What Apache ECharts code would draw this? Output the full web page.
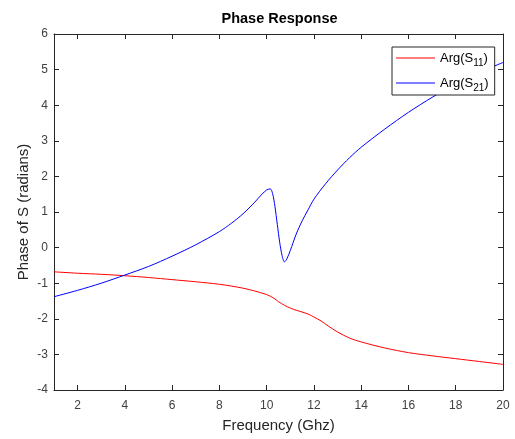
<!DOCTYPE html>
<html>
<head>
<meta charset="utf-8">
<script src="https://cdn.jsdelivr.net/npm/echarts@6/dist/echarts.min.js"></script>
<style>
  html, body { margin: 0; padding: 0; background: #fff; }
  #chart { width: 515px; height: 439px; }
</style>
</head>
<body>
<div id="chart"></div>
<script>
// values
var freqS11 = [1, 2, 3, 4, 5, 6, 7, 8, 8.5, 9, 9.5, 10, 10.3, 10.5, 10.75, 11, 11.25, 11.5, 11.8, 12, 12.3, 12.6, 13, 13.5, 14, 15, 16, 17, 18, 19, 20];
var argS11 = [-0.68, -0.72, -0.75, -0.79, -0.84, -0.9, -0.96, -1.03, -1.08, -1.14, -1.22, -1.32, -1.42, -1.52, -1.62, -1.7, -1.76, -1.81, -1.88, -1.95, -2.06, -2.2, -2.37, -2.54, -2.65, -2.82, -2.95, -3.04, -3.12, -3.2, -3.28];

var freqS21 = [1, 2, 3, 4, 5, 6, 7, 8, 8.5, 9, 9.5, 9.8, 10, 10.15, 10.25, 10.35, 10.45, 10.55, 10.65, 10.75, 10.85, 11, 11.25, 11.5, 11.75, 12, 12.5, 13, 13.5, 14, 15, 16, 17, 18, 19, 20];
var argS21 = [-1.38, -1.2, -1.0, -0.77, -0.53, -0.24, 0.08, 0.45, 0.68, 0.95, 1.28, 1.5, 1.62, 1.65, 1.52, 1.15, 0.65, 0.15, -0.22, -0.4, -0.32, -0.08, 0.38, 0.75, 1.06, 1.36, 1.8, 2.18, 2.52, 2.82, 3.33, 3.8, 4.22, 4.6, 4.92, 5.2];

var xTicks = [2, 4, 6, 8, 10, 12, 14, 16, 18, 20];
var seriesNames = ['Arg(S11)', 'Arg(S21)'];
var seriesColors = ['#ff0000', '#0000ff'];

function pairs(xs, ys) {
    return xs.map(function (x, i) { return [x, ys[i]]; });
}

var font = 'Liberation Sans, Arial, Helvetica, sans-serif';
var frame = '#262626';
var tickStyle = { show: true, inside: true, length: 5, lineStyle: { color: frame } };
var frameLine = { show: true, onZero: false, lineStyle: { color: frame } };

var chart = echarts.init(document.getElementById('chart'));
chart.setOption({
    backgroundColor: '#fff',
    animation: false,
    textStyle: { fontFamily: font },
    title: {
        text: 'Phase Response',
        left: 274.5,
        top: 6,
        textAlign: 'center',
        textStyle: { fontSize: 14.5, fontWeight: 'bold', color: '#000', fontFamily: font }
    },
    grid: { left: 54, right: 12, top: 34, bottom: 49, containLabel: false },
    legend: {
        orient: 'vertical',
        left: 392,
        top: 47,
        padding: [1, 6, 2, 4],
        itemGap: 5,
        itemWidth: 39,
        itemHeight: 1,
        icon: 'rect',
        borderColor: frame,
        borderWidth: 1,
        borderRadius: 0,
        backgroundColor: '#fff',
        data: seriesNames.map(function (n, i) {
            return { name: n, itemStyle: { color: seriesColors[i], borderWidth: 0 } };
        }),
        formatter: function (name) {
            var m = name.match(/^(.*S)(\d+)(\))$/);
            return '{main|' + m[1] + '}{sub|' + m[2] + '}{main|' + m[3] + '}';
        },
        textStyle: {
            fontSize: 13, lineHeight: 20, color: '#000', fontFamily: font,
            rich: {
                main: { fontSize: 13, lineHeight: 20, color: '#000', fontFamily: font, verticalAlign: 'middle' },
                sub: { fontSize: 10, lineHeight: 10, color: '#000', fontFamily: font, verticalAlign: 'bottom' }
            }
        }
    },
    xAxis: [{
        type: 'value', min: 1, max: 20,
        name: 'Frequency (Ghz)', nameLocation: 'middle', nameGap: 28,
        nameTextStyle: { fontSize: 15, color: frame },
        axisLine: frameLine,
        axisTick: Object.assign({ customValues: xTicks }, tickStyle),
        axisLabel: { customValues: xTicks, fontSize: 12, color: '#404040', margin: 10 },
        splitLine: { show: false }
    }, {
        type: 'value', min: 1, max: 20, position: 'top',
        axisLine: frameLine,
        axisTick: Object.assign({ customValues: xTicks }, tickStyle),
        axisLabel: { show: false },
        splitLine: { show: false }
    }],
    yAxis: [{
        type: 'value', min: -4, max: 6, interval: 1,
        name: 'Phase of S (radians)', nameLocation: 'middle', nameGap: 23,
        nameMoveOverlap: false,
        nameTextStyle: { fontSize: 15, color: frame },
        axisLine: frameLine,
        axisTick: tickStyle,
        axisLabel: { fontSize: 12, color: '#404040', margin: 6 },
        splitLine: { show: false }
    }, {
        type: 'value', min: -4, max: 6, interval: 1, position: 'right',
        axisLine: frameLine,
        axisTick: tickStyle,
        axisLabel: { show: false },
        splitLine: { show: false }
    }],
    series: [{
        name: seriesNames[0], type: 'line', symbol: 'none', smooth: 0.3,
        lineStyle: { color: seriesColors[0], width: 1 }, itemStyle: { color: seriesColors[0] },
        data: pairs(freqS11, argS11)
    }, {
        name: seriesNames[1], type: 'line', symbol: 'none', smooth: 0.3,
        lineStyle: { color: seriesColors[1], width: 1 }, itemStyle: { color: seriesColors[1] },
        data: pairs(freqS21, argS21)
    }]
});
</script>
</body>
</html>
